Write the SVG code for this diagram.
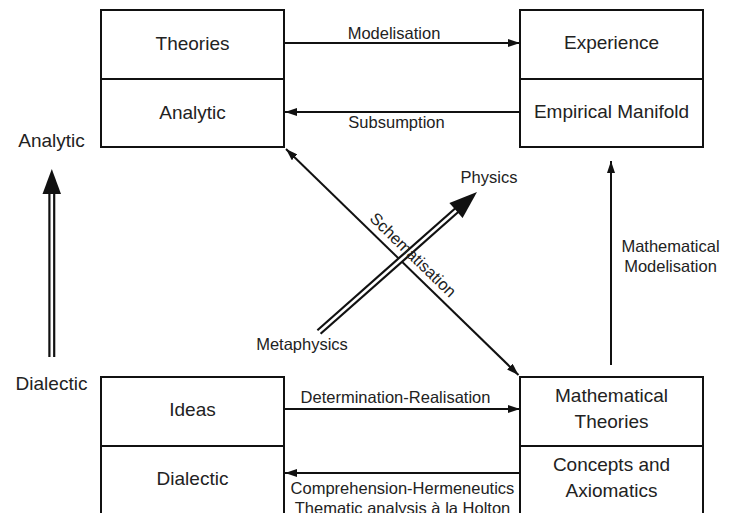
<svg xmlns="http://www.w3.org/2000/svg" width="737" height="513" viewBox="0 0 737 513">
<style>
.box{fill:#fff;stroke:#111;stroke-width:2}
.div{stroke:#111;stroke-width:2}
.t{font-family:"Liberation Sans",Arial,sans-serif;font-size:19px;fill:#222;text-anchor:middle}
.s{font-family:"Liberation Sans",Arial,sans-serif;font-size:16.5px;fill:#222;text-anchor:middle}
.ln{stroke:#111;stroke-width:2;fill:none}
</style>
<defs>
<marker id="ah" viewBox="0 0 12 8" refX="12" refY="4" markerWidth="12" markerHeight="8" markerUnits="userSpaceOnUse" orient="auto-start-reverse">
<path d="M0,0 L12,4 L0,8 z" fill="#111"/>
</marker>
</defs>
<rect width="737" height="513" fill="#fff"/>

<g id="connectors">
<line class="ln" x1="285" y1="43" x2="520" y2="43" marker-end="url(#ah)"/>
<line class="ln" x1="520" y1="112" x2="285" y2="112" marker-end="url(#ah)"/>
<line class="ln" x1="285" y1="409" x2="520" y2="409" marker-end="url(#ah)"/>
<line class="ln" x1="520" y1="473" x2="285" y2="473" marker-end="url(#ah)"/>
<line class="ln" x1="611" y1="365" x2="611" y2="161" marker-end="url(#ah)"/>
<line class="ln" x1="286" y1="149" x2="518.5" y2="375" marker-start="url(#ah)" marker-end="url(#ah)"/>
<!-- vertical double arrow -->
<line x1="51.8" y1="357" x2="51.8" y2="192" stroke="#111" stroke-width="7"/>
<line x1="51.8" y1="358" x2="51.8" y2="192" stroke="#fff" stroke-width="2.6"/>
<polygon points="51.8,169 42.5,194 61,194" fill="#111"/>
<!-- diagonal double arrow -->
<line x1="319" y1="332" x2="457.5" y2="209.5" stroke="#111" stroke-width="7"/>
<line x1="317" y1="333.8" x2="457.5" y2="209.5" stroke="#fff" stroke-width="2.6"/>
<polygon points="477,192 449.4,203 462.6,218" fill="#111"/>
<text class="s" x="394" y="38.5">Modelisation</text>
<text class="s" x="396.5" y="127.5">Subsumption</text>
<text class="s" x="395.5" y="402.5">Determination-Realisation</text>
<text class="s" x="402.5" y="494">Comprehension-Hermeneutics</text>
<text class="s" x="402.5" y="514">Thematic analysis à la Holton</text>
<text class="s" x="670.5" y="252">Mathematical</text>
<text class="s" x="670.5" y="272">Modelisation</text>
<text class="s" x="489" y="183">Physics</text>
<text class="s" x="302" y="349.5">Metaphysics</text>
<text class="s" transform="translate(409.1,258.9) rotate(44.2)">Schematisation</text>
<text class="t" x="51.5" y="147">Analytic</text>
<text class="t" x="51.5" y="390">Dialectic</text>
</g>

<g id="theories-analytic">
<rect class="box" x="101" y="10" width="183" height="137"/>
<line class="div" x1="101" y1="79" x2="284" y2="79"/>
<text class="t" x="192.5" y="50">Theories</text>
<text class="t" x="192.5" y="118.5">Analytic</text>
</g>

<g id="experience-manifold">
<rect class="box" x="520" y="10" width="183" height="137"/>
<line class="div" x1="520" y1="79" x2="703" y2="79"/>
<text class="t" x="611.5" y="49">Experience</text>
<text class="t" x="611.5" y="117.5">Empirical Manifold</text>
</g>

<g id="ideas-dialectic">
<rect class="box" x="101" y="377" width="183" height="160"/>
<line class="div" x1="101" y1="446" x2="284" y2="446"/>
<text class="t" x="192.5" y="416">Ideas</text>
<text class="t" x="192.5" y="485">Dialectic</text>
</g>

<g id="math-theories-concepts">
<rect class="box" x="520" y="377" width="183" height="160"/>
<line class="div" x1="520" y1="446" x2="703" y2="446"/>
<text class="t" x="611.5" y="402">Mathematical</text>
<text class="t" x="611.5" y="428">Theories</text>
<text class="t" x="611.5" y="471">Concepts and</text>
<text class="t" x="611.5" y="497">Axiomatics</text>
</g>
</svg>
